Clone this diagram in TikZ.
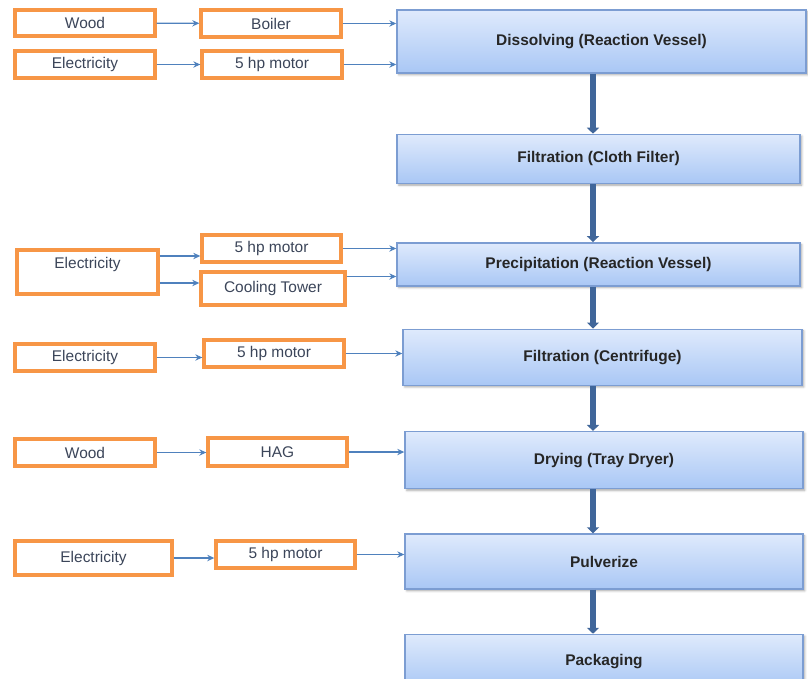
\documentclass[tikz,border=0pt]{standalone}
\usepackage{fontspec}
\setmainfont{Liberation Sans}
\usetikzlibrary{arrows.meta,positioning,calc,shadows.blur}
\definecolor{srcline}{HTML}{F79646}
\definecolor{feedline}{HTML}{4F81BD}
\definecolor{steptop}{HTML}{DFEAFC}
\definecolor{stepbot}{HTML}{A9C7F5}
\definecolor{stepline}{HTML}{7C9DD2}
\definecolor{flowline}{HTML}{40669A}
\definecolor{ink}{HTML}{3B4559}

\begin{document}
\begin{tikzpicture}[
  font=\fontsize{8.8}{10}\selectfont,
  src/.style={draw=srcline, line width=1.9pt, minimum width=2.8cm, minimum height=0.54cm, inner sep=1pt, align=center, text=ink},
  stepbox/.style={draw=stepline, line width=0.8pt, top color=steptop, bottom color=stepbot, minimum width=7.96cm, align=center, text=black!85, font=\fontsize{8.8}{10}\selectfont\bfseries, blur shadow={shadow xshift=1pt, shadow yshift=-1pt, shadow blur radius=1.2pt, shadow opacity=35}},
  feed/.style={-{Stealth[length=4pt,width=3.6pt]}, feedline, line width=0.7pt},
  flow/.style={-{Triangle[length=3.4pt,width=6.8pt]}, flowline, line width=3pt},
]
\useasboundingbox (0,0) rectangle (16.16,-13.56);
% process chain
\node[stepbox, minimum width=8.18cm, minimum height=1.26cm] (dissolve) at (12.03,-0.83) {Dissolving (Reaction Vessel)};
\node[stepbox, minimum width=8.06cm, minimum height=0.98cm, below=1.2cm of dissolve, xshift=-0.06cm] (cloth) {Filtration (Cloth Filter)};
\node[stepbox, minimum width=8.06cm, minimum height=0.86cm, below=1.16cm of cloth] (precip) {Precipitation (Reaction Vessel)};
\node[stepbox, minimum width=7.98cm, minimum height=1.12cm, below=0.84cm of precip, xshift=0.08cm] (centri) {Filtration (Centrifuge)};
\node[stepbox, minimum height=1.14cm, below=0.9cm of centri, xshift=0.03cm] (dry) {Drying (Tray Dryer)};
\node[stepbox, minimum height=1.1cm, below=0.88cm of dry] (pulv) {Pulverize};
\node[stepbox, minimum height=1.08cm, below=0.88cm of pulv] (pack) {Packaging};
\coordinate (spine) at (11.86,0);
% inputs
\node[src, minimum height=0.52cm] (wood1) at (1.70,-0.46) {Wood};
\node[src] (boiler) at (5.42,-0.47) {Boiler};
\node[src] (elec1) at (1.70,-1.29) {Electricity};
\node[src] (motor1) at (5.44,-1.29) {5 hp motor};
\node[src, minimum width=2.82cm, minimum height=0.88cm] (elec2) at (1.75,-5.44) {Electricity\\~};
\node[src, minimum width=2.78cm] (motor2) at (5.43,-4.97) {5 hp motor};
\node[src, minimum width=2.88cm, minimum height=0.66cm] (cool) at (5.46,-5.77) {Cooling Tower};
\node[src] (elec3) at (1.70,-7.15) {Electricity};
\node[src] (motor3) at (5.48,-7.07) {5 hp motor};
\node[src] (wood2) at (1.70,-9.05) {Wood};
\node[src, minimum width=2.78cm, minimum height=0.56cm] (hag) at (5.55,-9.04) {HAG};
\node[src, minimum width=3.14cm, minimum height=0.68cm] (elec4) at (1.87,-11.16) {Electricity};
\node[src, minimum width=2.78cm] (motor4) at (5.71,-11.09) {5 hp motor};
\coordinate (e2up) at ($(elec2.east)+(0,0.32)$);
\coordinate (e2lo) at ($(elec2.east)+(0,-0.22)$);
\coordinate (coolout) at ($(cool.east)+(0,0.24)$);
% feed arrows
\draw[feed] (wood1) -- (boiler);
\draw[feed] (boiler.east) -- (boiler.east -| dissolve.west);
\draw[feed] (elec1) -- (motor1);
\draw[feed] (motor1.east) -- (motor1.east -| dissolve.west);
\draw[feed] (e2up) -- (e2up -| motor2.west);
\draw[feed] (e2lo) -- (e2lo -| cool.west);
\draw[feed] (motor2.east) -- (motor2.east -| precip.west);
\draw[feed] (coolout) -- (coolout -| precip.west);
\draw[feed] (elec3.east) -- (elec3.east -| motor3.west);
\draw[feed] (motor3.east) -- (motor3.east -| centri.west);
\draw[feed] (wood2.east) -- (wood2.east -| hag.west);
\draw[feed] (hag.east) -- (hag.east -| dry.west);
\draw[feed] (elec4.east) -- (elec4.east -| motor4.west);
\draw[feed] (motor4.east) -- (motor4.east -| pulv.west);
% main flow
\draw[flow] (dissolve.south -| spine) -- (cloth.north -| spine);
\draw[flow] (cloth.south -| spine) -- (precip.north -| spine);
\draw[flow] (precip.south -| spine) -- (centri.north -| spine);
\draw[flow] (centri.south -| spine) -- (dry.north -| spine);
\draw[flow] (dry.south -| spine) -- (pulv.north -| spine);
\draw[flow] (pulv.south -| spine) -- (pack.north -| spine);
\end{tikzpicture}
\end{document}
